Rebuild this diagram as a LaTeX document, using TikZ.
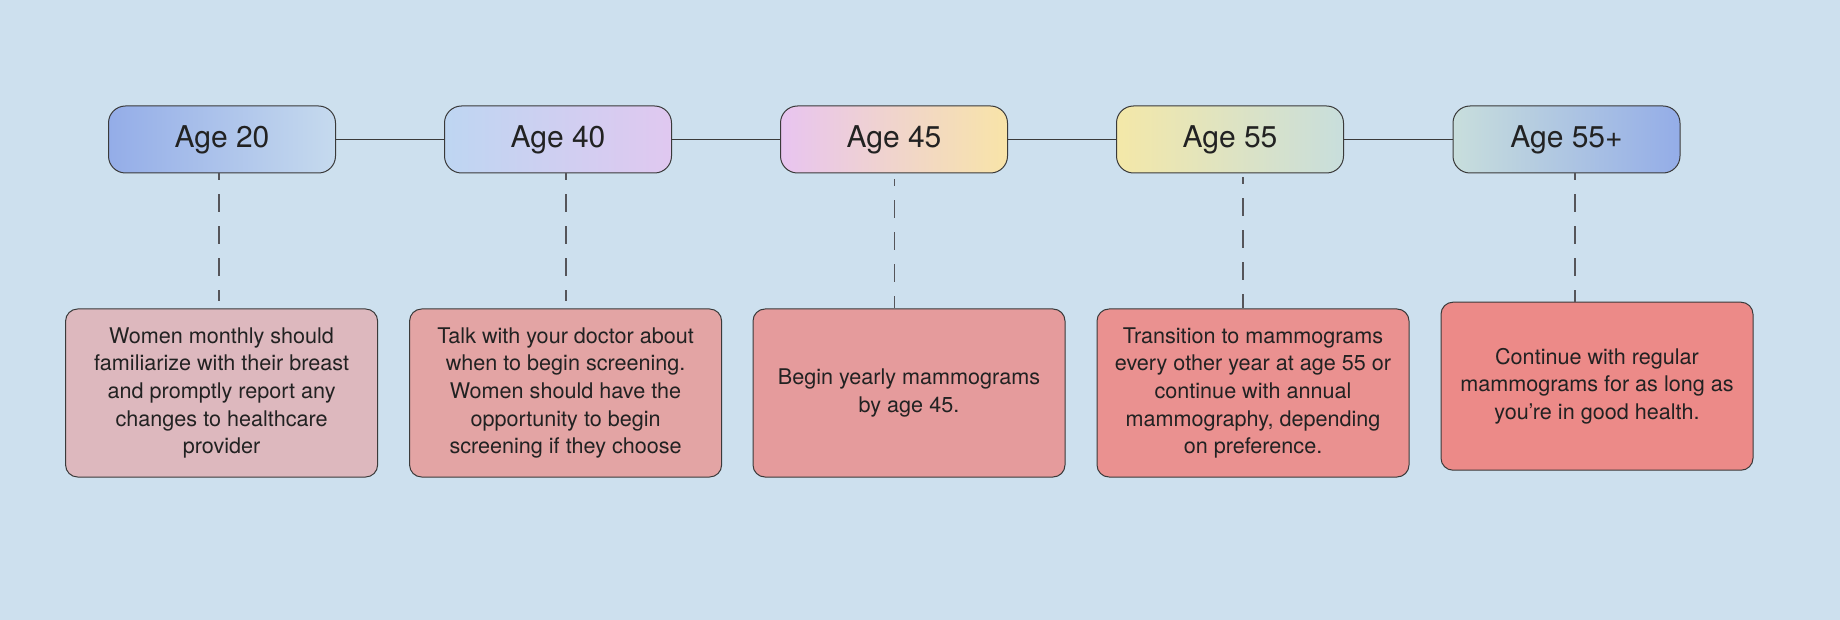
\documentclass[tikz,border=0pt]{standalone}
\usepackage{fontspec}
\setmainfont{TeX Gyre Heros}
\definecolor{ccdfee}{rgb}{0.804,0.878,0.933}
\definecolor{jjkkww}{rgb}{0.580,0.678,0.910}
\definecolor{mmvvww}{rgb}{0.776,0.855,0.933}
\definecolor{llssxx}{rgb}{0.745,0.839,0.949}
\definecolor{vvqqww}{rgb}{0.878,0.784,0.941}
\definecolor{xxppxx}{rgb}{0.910,0.769,0.941}
\definecolor{zzxxll}{rgb}{0.973,0.894,0.659}
\definecolor{xxwwll}{rgb}{0.957,0.910,0.659}
\definecolor{mmvvtt}{rgb}{0.784,0.871,0.863}
\definecolor{ffllnn}{rgb}{0.867,0.722,0.745}
\definecolor{eekkkk}{rgb}{0.890,0.643,0.643}
\definecolor{eejjjj}{rgb}{0.898,0.608,0.612}
\definecolor{ffhhhh}{rgb}{0.918,0.569,0.565}
\definecolor{ffggff}{rgb}{0.925,0.541,0.533}
\definecolor{dddddd}{rgb}{0.227,0.227,0.227}
\definecolor{eeeeff}{rgb}{0.333,0.333,0.353}
\definecolor{bbbbbb}{rgb}{0.133,0.133,0.133}
\tikzset{
    agebox/.style={draw=dddddd,line width=1pt,rounded corners=17pt,minimum width=227pt,minimum height=67pt,inner sep=0pt,text=bbbbbb,font=\fontsize{30}{36}\selectfont},
    infobox/.style={draw=dddddd,line width=1pt,rounded corners=12pt,minimum width=312pt,minimum height=168pt,inner sep=0pt,align=center,text=bbbbbb,font=\fontsize{21.6}{27.6}\selectfont},
    timeln/.style={draw=dddddd,line width=1.2pt},
    dashln/.style={draw=eeeeff,line width=1.4pt,dash pattern=on 18pt off 14pt,dash phase=11pt}
}
\begin{document}
\begin{tikzpicture}[line cap=butt,line join=round,x=1pt,y=-1pt]
    \useasboundingbox (0,0) rectangle (1840,620);
    \fill [ccdfee] (0,0) rectangle (1840,620);
    \node[agebox,left color=jjkkww,right color=mmvvww] (a20) at (222,139.5) {Age 20};
    \node[agebox,left color=llssxx,right color=vvqqww] (a40) at (558,139.5) {Age 40};
    \node[agebox,left color=xxppxx,right color=zzxxll] (a45) at (894,139.5) {Age 45};
    \node[agebox,left color=xxwwll,right color=mmvvtt] (a55) at (1230,139.5) {Age 55};
    \node[agebox,left color=mmvvtt,right color=jjkkww] (a55p) at (1566.5,139.5) {Age 55+};
    \node[infobox,fill=ffllnn] (d20) at (221.6,393) {Women monthly should\\familiarize with their breast\\and promptly report any\\changes to healthcare\\provider};
    \node[infobox,fill=eekkkk] (d40) at (565.6,393) {Talk with your doctor about\\when to begin screening.\\Women should have the\\opportunity to begin\\screening if they choose};
    \node[infobox,fill=eejjjj] (d45) at (909,393) {Begin yearly mammograms\\by age 45.};
    \node[infobox,fill=ffhhhh] (d55) at (1253,393) {Transition to mammograms\\every other year at age 55 or\\continue with annual\\mammography, depending\\on preference.};
    \node[infobox,fill=ffggff] (d55p) at (1597,386.2) {Continue with regular\\mammograms for as long as\\you're in good health.};
    \draw [timeln] (a20) -- (a40);
    \draw [timeln] (a40) -- (a45);
    \draw [timeln] (a45) -- (a55);
    \draw [timeln] (a55) -- (a55p);
    \draw [dashln,shorten >=7pt] ([xshift=-3pt]a20.south) -- ([xshift=-3pt]a20.south |- d20.north);
    \draw [dashln,shorten >=7pt] ([xshift=8pt]a40.south) -- ([xshift=8pt]a40.south |- d40.north);
    \draw [dashln,shorten <=6pt] ([xshift=0.6pt]a45.south) -- ([xshift=0.6pt]a45.south |- d45.north);
    \draw [dashln,shorten <=4pt] ([xshift=13pt]a55.south) -- ([xshift=13pt]a55.south |- d55.north);
    \draw [dashln] ([xshift=8.5pt]a55p.south) -- ([xshift=8.5pt]a55p.south |- d55p.north);
\end{tikzpicture}
\end{document}
